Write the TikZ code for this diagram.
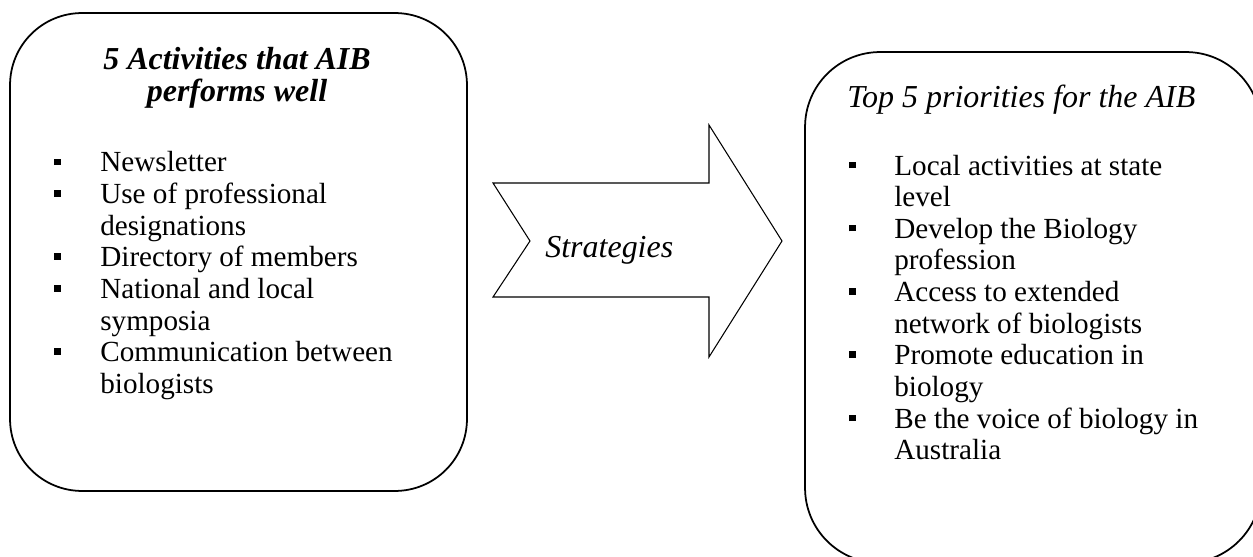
\documentclass[tikz,border=0pt]{standalone}
\usepackage{fontspec}
\setmainfont{Liberation Serif}
\usetikzlibrary{positioning}
\newcommand{\sqbul}{\rule[0.14cm]{0.13cm}{0.13cm}}
\tikzset{
  roundbox/.style={draw, line width=1pt, rectangle, inner sep=0pt},
  listtext/.style={inner sep=0pt, anchor=base west, font=\fontsize{16.6pt}{18pt}\selectfont},
  headtext/.style={inner sep=0pt, font=\fontsize{18.2pt}{17pt}\selectfont\itshape},
}

\begin{document}
\begin{tikzpicture}[x=0.02cm, y=-0.02cm]%
\useasboundingbox (0, 0) rectangle (1253, 557);%
\clip (0, 0) rectangle (1253, 557);%
% left box
\node[roundbox, rounded corners=1.44cm, minimum width=9.14cm, minimum height=9.56cm] (actbox) at (238.5, 252) {};%
\node[headtext, anchor=base] (acttitle) at (237, 70) {\bfseries\begin{tabular}[t]{@{}c@{}}5 Activities that AIB\\performs well\end{tabular}};%
\node[listtext] (actlist) at (54, 172) {\begin{tabular}[t]{@{}p{0.92cm}@{}l@{}}
\sqbul & Newsletter\\
\sqbul & Use of professional\\
 & designations\\
\sqbul & Directory of members\\
\sqbul & National and local\\
 & symposia\\
\sqbul & Communication between\\
 & biologists
\end{tabular}};%
% arrow
\draw[line width=0.6pt] (493, 183) -- (709, 183) -- (709, 125) -- (782, 241) -- (709, 357) -- (709, 297) -- (493, 297) -- (530, 241) -- cycle;%
\node[headtext, anchor=base west] (strat) at (545, 257) {Strategies};%
% right box
\node[roundbox, rounded corners=1.5cm, minimum width=9.12cm, minimum height=10.22cm] (pribox) at (1033, 307.5) {};%
\node[headtext, anchor=base west] (prititle) at (847, 108) {Top 5 priorities for the AIB};%
\node[listtext] (prilist) at (849, 175) {\begin{tabular}[t]{@{}p{0.9cm}@{}l@{}}
\sqbul & Local activities at state\\
 & level\\
\sqbul & Develop the Biology\\
 & profession\\
\sqbul & Access to extended\\
 & network of biologists\\
\sqbul & Promote education in\\
 & biology\\
\sqbul & Be the voice of biology in\\
 & Australia
\end{tabular}};%
\end{tikzpicture}
\end{document}
